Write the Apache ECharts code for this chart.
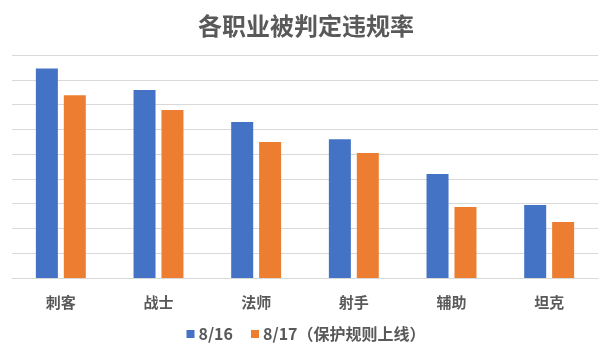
<!DOCTYPE html>
<html>
<head>
<meta charset="utf-8">
<script src="https://cdn.jsdelivr.net/npm/echarts@6/dist/echarts.min.js"></script>
<style>html,body{margin:0;padding:0;background:#fff}#c{width:612px;height:356px}</style>
</head>
<body>
<div id="c"></div>
<script>
const categories = ['刺客', '战士', '法师', '射手', '辅助', '坦克'];
const series816 = [8.46, 7.59, 6.30, 5.60, 4.20, 2.95];
const series817 = [7.38, 6.78, 5.49, 5.04, 2.87, 2.26];
const seriesNames = ['8/16', '8/17（保护规则上线）'];

const chart = echarts.init(document.getElementById('c'));
const font = '"Noto Sans CJK SC", "Microsoft YaHei", sans-serif';
chart.setOption({
  animation: false,
  backgroundColor: '#fff',
  title: {
    text: '各职业被判定违规率',
    left: 'center',
    top: 9,
    textStyle: { fontFamily: font, fontSize: 24, fontWeight: 'bold', color: '#595959' }
  },
  legend: {
    data: seriesNames,
    top: 321,
    left: 'center',
    itemWidth: 8,
    itemHeight: 8,
    itemGap: 18,
    icon: 'rect',
    textStyle: { fontFamily: font, fontSize: 16, fontWeight: 'bold', color: '#595959', padding: [0, 0, 0, -1] }
  },
  grid: { left: 12, right: 14, top: 55, bottom: 78 },
  xAxis: {
    type: 'category',
    data: categories,
    axisLine: { lineStyle: { color: '#d9d9d9' } },
    axisTick: { show: false },
    axisLabel: { fontFamily: font, fontSize: 15, color: '#595959', margin: 17, fontWeight: 'bold' }
  },
  yAxis: {
    type: 'value',
    min: 0, max: 9, interval: 1,
    axisLabel: { show: false },
    axisLine: { show: false },
    axisTick: { show: false },
    splitLine: { lineStyle: { color: '#d9d9d9' } }
  },
  series: [
    { name: seriesNames[0], type: 'bar', data: series816, barWidth: 22, barGap: '27%', itemStyle: { color: '#4472C4' } },
    { name: seriesNames[1], type: 'bar', data: series817, barWidth: 22, itemStyle: { color: '#ED7D31' } }
  ]
});
</script>
</body>
</html>
